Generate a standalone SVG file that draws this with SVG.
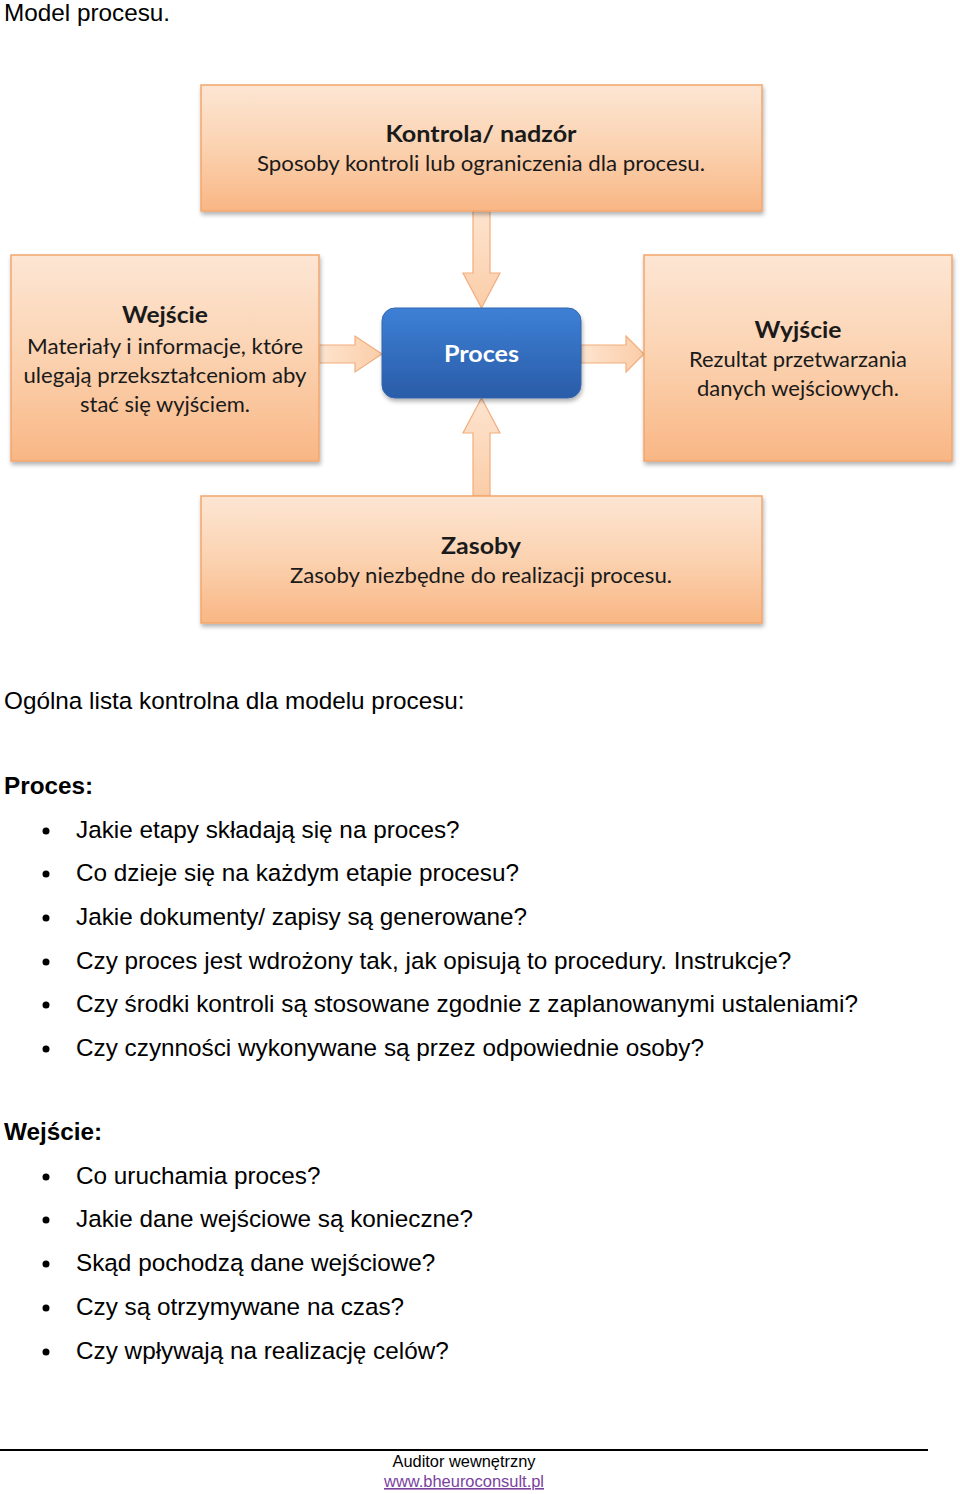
<svg xmlns="http://www.w3.org/2000/svg" width="960" height="1494" viewBox="0 0 960 1494">
<style>
.doc{font-family:"Liberation Sans",Arial,sans-serif;font-size:24.3px;fill:#000}
.b{font-weight:bold}
.box{fill:url(#og);stroke:#f2a66c;stroke-width:1.5}
.bt{font-family:Lato,"Open Sans",sans-serif;fill:#1a1a1a;text-anchor:middle}
.h{font-weight:bold;font-size:23.5px}
.s{font-size:21px}
.arr{fill:url(#ag);stroke:#f2ad7c;stroke-width:1.2}
.foot{font-family:"Liberation Sans",Tahoma,sans-serif;font-size:16px;text-anchor:middle}
</style>
<defs>
<linearGradient id="og" x1="0" y1="0" x2="0" y2="1">
<stop offset="0" stop-color="#fde6d4"/>
<stop offset="0.5" stop-color="#fbd2b0"/>
<stop offset="1" stop-color="#f9b684"/>
</linearGradient>
<linearGradient id="ag" x1="0" y1="0" x2="0" y2="1">
<stop offset="0" stop-color="#fde4cf"/>
<stop offset="1" stop-color="#fbcda8"/>
</linearGradient>
<linearGradient id="agh" x1="0" y1="0" x2="1" y2="0">
<stop offset="0" stop-color="#fde4cf"/>
<stop offset="1" stop-color="#fbcda8"/>
</linearGradient>
<linearGradient id="bg" x1="0" y1="0" x2="0" y2="1">
<stop offset="0" stop-color="#3d80d6"/>
<stop offset="1" stop-color="#2a5ca8"/>
</linearGradient>
<filter id="sh" x="-10%" y="-10%" width="120%" height="130%">
<feDropShadow dx="1" dy="3" stdDeviation="2" flood-color="#000" flood-opacity="0.3"/>
</filter>
</defs>

<text class="doc" x="4" y="20.5">Model procesu.</text>

<g id="connectors">
<path class="arr" d="M473,211 L490,211 L490,273 L500,273 L481.5,308 L463,273 L473,273 Z"/>
<path class="arr" d="M473,496 L490,496 L490,433 L500,433 L481.5,398 L463,433 L473,433 Z"/>
<path class="arr" style="fill:url(#agh)" d="M319,345 L355,345 L355,336 L382,354 L355,372 L355,363 L319,363 Z"/>
<path class="arr" style="fill:url(#agh)" d="M581,345 L626,345 L626,336 L644,354 L626,372 L626,363 L581,363 Z"/>
</g>

<g id="kontrola">
<rect class="box" x="201" y="85" width="561" height="126" filter="url(#sh)"/>
<text class="bt h" x="481" y="142" textLength="191" lengthAdjust="spacingAndGlyphs">Kontrola/ nadzór</text>
<text class="bt s" x="481" y="171" textLength="448" lengthAdjust="spacingAndGlyphs">Sposoby kontroli lub ograniczenia dla procesu.</text>
</g>

<g id="wejscie">
<rect class="box" x="11" y="255" width="308" height="206" filter="url(#sh)"/>
<text class="bt h" x="165" y="323" textLength="86" lengthAdjust="spacingAndGlyphs">Wejście</text>
<text class="bt s" x="165" y="354" textLength="276" lengthAdjust="spacingAndGlyphs">Materiały i informacje, które</text>
<text class="bt s" x="165" y="383" textLength="283" lengthAdjust="spacingAndGlyphs">ulegają przekształceniom aby</text>
<text class="bt s" x="165" y="412" textLength="170" lengthAdjust="spacingAndGlyphs">stać się wyjściem.</text>
</g>

<g id="wyjscie">
<rect class="box" x="644" y="255" width="308" height="206" filter="url(#sh)"/>
<text class="bt h" x="798" y="338" textLength="87" lengthAdjust="spacingAndGlyphs">Wyjście</text>
<text class="bt s" x="798" y="367" textLength="218" lengthAdjust="spacingAndGlyphs">Rezultat przetwarzania</text>
<text class="bt s" x="798" y="396" textLength="202" lengthAdjust="spacingAndGlyphs">danych wejściowych.</text>
</g>

<g id="proces">
<rect x="382" y="308" width="199" height="90" rx="13" fill="url(#bg)" stroke="#3566ad" stroke-width="1" filter="url(#sh)"/>
<text x="481.5" y="362" font-family="Lato,'Open Sans',sans-serif" font-weight="bold" font-size="23" fill="#fff" text-anchor="middle" textLength="75" lengthAdjust="spacingAndGlyphs">Proces</text>
</g>

<g id="zasoby">
<rect class="box" x="201" y="496" width="561" height="127" filter="url(#sh)"/>
<text class="bt h" x="481" y="554" textLength="80" lengthAdjust="spacingAndGlyphs">Zasoby</text>
<text class="bt s" x="481" y="583" textLength="382" lengthAdjust="spacingAndGlyphs">Zasoby niezbędne  do realizacji procesu.</text>
</g>

<g id="lista">
<text class="doc" x="4" y="709">Ogólna lista kontrolna dla modelu procesu:</text>
<text class="doc b" x="4" y="794">Proces:</text>
<g fill="#000">
<circle cx="46" cy="831" r="3.5"/><circle cx="46" cy="874" r="3.5"/><circle cx="46" cy="918" r="3.5"/>
<circle cx="46" cy="962" r="3.5"/><circle cx="46" cy="1005" r="3.5"/><circle cx="46" cy="1049" r="3.5"/>
<circle cx="46" cy="1177" r="3.5"/><circle cx="46" cy="1220" r="3.5"/><circle cx="46" cy="1264" r="3.5"/>
<circle cx="46" cy="1308" r="3.5"/><circle cx="46" cy="1352" r="3.5"/>
</g>
<text class="doc" x="76" y="838">Jakie etapy składają się na proces?</text>
<text class="doc" x="76" y="881">Co dzieje się na każdym etapie procesu?</text>
<text class="doc" x="76" y="925">Jakie dokumenty/ zapisy są generowane?</text>
<text class="doc" x="76" y="969">Czy proces jest wdrożony tak, jak opisują to procedury. Instrukcje?</text>
<text class="doc" x="76" y="1012">Czy środki kontroli są stosowane zgodnie z zaplanowanymi ustaleniami?</text>
<text class="doc" x="76" y="1056">Czy czynności wykonywane są przez odpowiednie osoby?</text>
<text class="doc b" x="4" y="1140">Wejście:</text>
<text class="doc" x="76" y="1184">Co uruchamia proces?</text>
<text class="doc" x="76" y="1227">Jakie dane wejściowe są konieczne?</text>
<text class="doc" x="76" y="1271">Skąd pochodzą dane wejściowe?</text>
<text class="doc" x="76" y="1315">Czy są otrzymywane na czas?</text>
<text class="doc" x="76" y="1359">Czy wpływają na realizację celów?</text>
</g>

<g id="stopka">
<line x1="0" y1="1450" x2="928" y2="1450" stroke="#000" stroke-width="2"/>
<text class="foot" x="464" y="1467" textLength="143" lengthAdjust="spacingAndGlyphs">Auditor wewnętrzny</text>
<text class="foot" x="464" y="1487" fill="#7b3fa0" text-decoration="underline" textLength="160" lengthAdjust="spacingAndGlyphs">www.bheuroconsult.pl</text>
</g>
</svg>
